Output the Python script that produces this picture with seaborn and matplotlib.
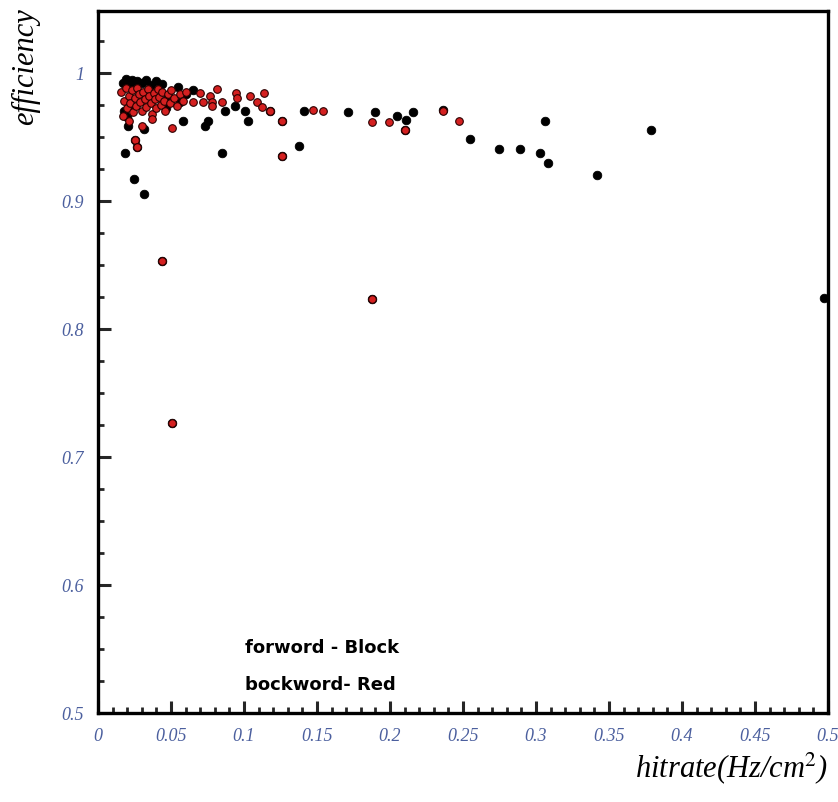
"""Efficiency vs hit rate, forward (black) and backward (red) chambers."""
import matplotlib
matplotlib.use("Agg")
import matplotlib.pyplot as plt
from matplotlib.ticker import MultipleLocator, FuncFormatter
import pandas as pd
import seaborn as sns

sns.set_style("ticks")
plt.rcParams.update({
    "font.family": ["Liberation Serif", "DejaVu Serif"],
    "mathtext.fontset": "stix",
    "text.color": "black",
})
TICK_BLUE = "#4b5f9e"
RED = "#d42020"

# ── data ─────────────────────────────────────────────────────────────────────
fwd_rate = [0.017, 0.019, 0.021, 0.023, 0.025, 0.027, 0.030, 0.033, 0.036, 0.040,
            0.044, 0.055, 0.056, 0.058, 0.0465, 0.0205, 0.0315, 0.0185, 0.0245, 0.0315,
            0.025, 0.027, 0.018, 0.020, 0.022, 0.060, 0.073, 0.075, 0.085, 0.087,
            0.094, 0.101, 0.103, 0.138, 0.141, 0.171, 0.190, 0.205, 0.211, 0.216,
            0.236, 0.255, 0.275, 0.289, 0.303, 0.306, 0.308, 0.342, 0.379, 0.497,
            0.188, 0.044, 0.051, 0.126, 0.118, 0.126, 0.210, 0.065, 0.048]
fwd_eff = [0.992, 0.995, 0.991, 0.994, 0.990, 0.993, 0.992, 0.994, 0.990, 0.993,
           0.991, 0.989, 0.977, 0.9625, 0.972, 0.9585, 0.956, 0.937, 0.917, 0.905,
           0.947, 0.942, 0.970, 0.965, 0.975, 0.983, 0.9585, 0.962, 0.937, 0.970,
           0.974, 0.970, 0.9625, 0.943, 0.970, 0.969, 0.969, 0.966, 0.963, 0.969,
           0.971, 0.948, 0.940, 0.940, 0.937, 0.962, 0.929, 0.920, 0.955, 0.824,
           0.823, 0.853, 0.726, 0.935, 0.970, 0.9625, 0.955, 0.986, 0.981]

bwd_rate = [0.016, 0.018, 0.019, 0.020, 0.021, 0.022, 0.023, 0.024, 0.025, 0.026,
            0.027, 0.028, 0.029, 0.030, 0.031, 0.032, 0.033, 0.034, 0.035, 0.036,
            0.037, 0.038, 0.039, 0.040, 0.041, 0.042, 0.043, 0.044, 0.045, 0.046,
            0.048, 0.049, 0.050, 0.052, 0.054, 0.056, 0.058, 0.060, 0.017, 0.021,
            0.025, 0.027, 0.037, 0.051, 0.030, 0.065, 0.070, 0.072, 0.077, 0.078,
            0.078, 0.0815, 0.085, 0.0945, 0.095, 0.104, 0.109, 0.112, 0.114, 0.118,
            0.126, 0.126, 0.147, 0.154, 0.188, 0.199, 0.210, 0.236, 0.247, 0.188,
            0.044, 0.051]
bwd_eff = [0.985, 0.978, 0.988, 0.972, 0.982, 0.976, 0.986, 0.969, 0.980, 0.974,
           0.988, 0.983, 0.977, 0.970, 0.985, 0.979, 0.973, 0.987, 0.982, 0.976,
           0.968, 0.984, 0.979, 0.972, 0.987, 0.981, 0.975, 0.985, 0.978, 0.970,
           0.983, 0.976, 0.986, 0.980, 0.974, 0.983, 0.978, 0.985, 0.966, 0.962,
           0.947, 0.942, 0.964, 0.957, 0.958, 0.977, 0.984, 0.977, 0.982, 0.977,
           0.974, 0.987, 0.977, 0.984, 0.980, 0.982, 0.977, 0.973, 0.984, 0.970,
           0.9625, 0.935, 0.971, 0.970, 0.961, 0.961, 0.955, 0.970, 0.9625, 0.823,
           0.853, 0.726]

fwd = pd.DataFrame({"hitrate": fwd_rate, "eff": fwd_eff})
bwd = pd.DataFrame({"hitrate": bwd_rate, "eff": bwd_eff})

# ── figure ──────────────────────────────────────────────────────────────────
fig = plt.figure(figsize=(8.38, 8.03), dpi=100)
ax = fig.add_axes([0.117, 0.111, 0.871, 0.874])

sns.scatterplot(data=fwd, x="hitrate", y="eff", ax=ax, color="black",
                s=38, edgecolor="black", linewidth=0.6, zorder=3)
sns.scatterplot(data=bwd, x="hitrate", y="eff", ax=ax, color=RED,
                s=30, edgecolor="#2a0000", linewidth=0.8, zorder=4)

ax.set_xlim(0, 0.5)
ax.set_ylim(0.5, 1.048)
ax.set_xlabel("")
ax.set_ylabel("")

for side in ["left", "bottom", "right", "top"]:
    ax.spines[side].set_linewidth(2.4)
    ax.spines[side].set_color("black")

ax.xaxis.set_major_locator(MultipleLocator(0.05))
ax.xaxis.set_minor_locator(MultipleLocator(0.01))
ax.yaxis.set_major_locator(MultipleLocator(0.1))
ax.yaxis.set_minor_locator(MultipleLocator(0.025))
fmt = FuncFormatter(lambda v, pos: f"{v:g}")
ax.xaxis.set_major_formatter(fmt)
ax.yaxis.set_major_formatter(fmt)
ax.tick_params(which="major", direction="in", length=9, width=2.2,
               labelsize=13, labelcolor=TICK_BLUE, pad=10)
ax.tick_params(which="minor", direction="in", length=4.5, width=2)
ax.tick_params(top=False, right=False, which="both")
for lab in ax.get_xticklabels() + ax.get_yticklabels():
    lab.set_fontstyle("italic")

ax.text(0.1005, 0.5516, "forword - Block", fontsize=13, family="DejaVu Sans",
        fontweight="semibold", color="black", va="center", ha="left")
ax.text(0.1005, 0.5227, "bockword- Red", fontsize=13, family="DejaVu Sans",
        fontweight="semibold", color="black", va="center", ha="left")

fig.text(0.03, 0.917, "efficiency", rotation=90, fontsize=22, style="italic",
         color="black", ha="center", va="center")
fig.text(0.988, 0.044, r"hitrate(Hz/cm$^{2}$)", fontsize=22, style="italic",
         color="black", ha="right", va="center")

fig.savefig("out.png", dpi=100)
plt.close()
